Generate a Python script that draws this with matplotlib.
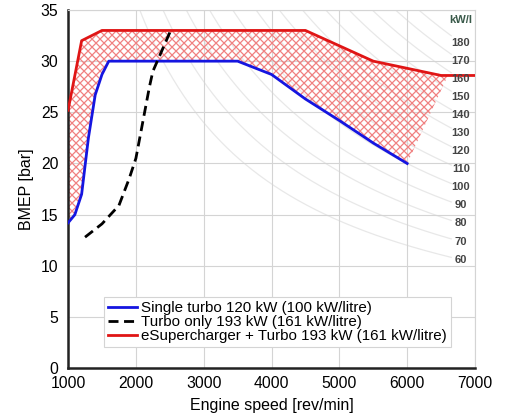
import numpy as np
import matplotlib
matplotlib.use("Agg")
import matplotlib.pyplot as plt
from matplotlib.patches import Polygon
from matplotlib.collections import LineCollection

plt.rcParams['font.family'] = ['Liberation Sans', 'DejaVu Sans']

#-----
#Data
#-----
single_rpm = [1000, 1100, 1200, 1300, 1400, 1500, 1600, 3500, 4000, 4500, 5000, 5500, 6000]
single_bmep = [14.2, 15.0, 17.0, 22.5, 26.7, 28.7, 30.0, 30.0, 28.7, 26.3, 24.2, 22.0, 20.0]

turbo_rpm = [1250, 1500, 1750, 1900, 2000, 2100, 2200, 2250, 2500]
turbo_bmep = [12.8, 14.1, 15.9, 18.5, 20.5, 24.0, 27.5, 29.0, 32.8]

esc_rpm = [1000, 1200, 1500, 4500, 5500, 6000, 6500, 7000]
esc_bmep = [25.2, 32.0, 33.0, 33.0, 30.0, 29.3, 28.6, 28.6]

# top edge of hatched area (stops at 6600, then straight down to blue end)
hatch_top_rpm = [1000, 1200, 1500, 4500, 5500, 6000, 6600]
hatch_top_bmep = [25.2, 32.0, 33.0, 33.0, 30.0, 29.3, 28.6]

kwl_levels = [60, 70, 80, 90, 100, 110, 120, 130, 140, 150, 160, 170, 180]

x_ticks = [1000, 2000, 3000, 4000, 5000, 6000, 7000]
y_ticks = [0, 5, 10, 15, 20, 25, 30, 35]

#------
#Figure
#------
W_IN, H_IN, DPI = 5.08, 4.16, 100
rect = [0.134, 0.115, 0.801, 0.861]
fig = plt.figure(figsize=(W_IN, H_IN), dpi=DPI)
ax = fig.add_axes(rect)

# iso power lines (kW per litre): bmep = P * 1200 / n
n = np.linspace(1000, 6650, 300)
for p in kwl_levels:
    ax.plot(n, p * 1200 / n, color="#e8e8e8", lw=0.9, zorder=0)
    ax.text(6790, p * 1200 / 6790, str(p), fontsize=8, fontweight="bold",
            color="#444444", ha="center", va="center", zorder=5)
ax.text(6790, 34.0, "kW/l", fontsize=8, fontweight="bold", color="#3a5a4a",
        ha="center", va="center", zorder=5)

#Cross hatch between eSupercharger and single turbo
poly_x = hatch_top_rpm + single_rpm[::-1]
poly_y = hatch_top_bmep + single_bmep[::-1]
clip = Polygon(np.column_stack([poly_x, poly_y]), closed=True,
               facecolor="none", edgecolor="none", transform=ax.transData)
ax.add_patch(clip)

ax_w = rect[2] * W_IN * DPI
ax_h = rect[3] * H_IN * DPI
step = 8.0  # px between hatch lines
segs = []
for c in np.arange(-ax_w, ax_h + ax_w, step):
    # v = u + c  and  v = -u + c  (pixel coords inside axes)
    segs.append([(0, c / ax_h), (1, (ax_w + c) / ax_h)])
    segs.append([(0, c / ax_h), (1, (c - ax_w) / ax_h)])
hatch = LineCollection(segs, colors="#f08080", linewidths=0.9,
                       transform=ax.transAxes, zorder=1)
hatch.set_clip_path(clip)
ax.add_collection(hatch)

ax.plot(single_rpm, single_bmep, color="#1515e0", lw=2,
        label="Single turbo 120 kW (100 kW/litre)", zorder=3)
ax.plot(turbo_rpm, turbo_bmep, color="black", lw=2, ls=(0, (3.6, 2)),
        label="Turbo only 193 kW (161 kW/litre)", zorder=3)
ax.plot(esc_rpm, esc_bmep, color="#e01515", lw=2,
        label="eSupercharger + Turbo 193 kW (161 kW/litre)", zorder=3)

ax.set_xlim(1000, 7000)
ax.set_ylim(0, 35)
ax.set_xticks(x_ticks)
ax.set_yticks(y_ticks)
ax.tick_params(labelsize=11.3, length=0)
ax.tick_params(axis="x", pad=6)
ax.tick_params(axis="y", pad=7)
ax.grid(True, color="#d4d4d4", lw=0.8)
ax.set_axisbelow(True)

for s in ["top", "right"]:
    ax.spines[s].set_color("#d4d4d4")
    ax.spines[s].set_linewidth(0.8)
for s in ["left", "bottom"]:
    ax.spines[s].set_color("#222222")
    ax.spines[s].set_linewidth(1.8)

ax.set_xlabel("Engine speed [rev/min]", fontsize=11.5, labelpad=5)
ax.set_ylabel("BMEP [bar]", fontsize=11.5, labelpad=5)

leg = ax.legend(loc="lower center", bbox_to_anchor=(0.515, 0.06), fontsize=10.9,
                handlelength=1.9, handletextpad=0.3, borderpad=0.25,
                labelspacing=0.0, borderaxespad=0, fancybox=False, framealpha=1)
leg.get_frame().set_edgecolor("#d4d4d4")
leg.get_frame().set_linewidth(0.8)
leg.set_zorder(6)

fig.savefig("out.png", dpi=DPI)
